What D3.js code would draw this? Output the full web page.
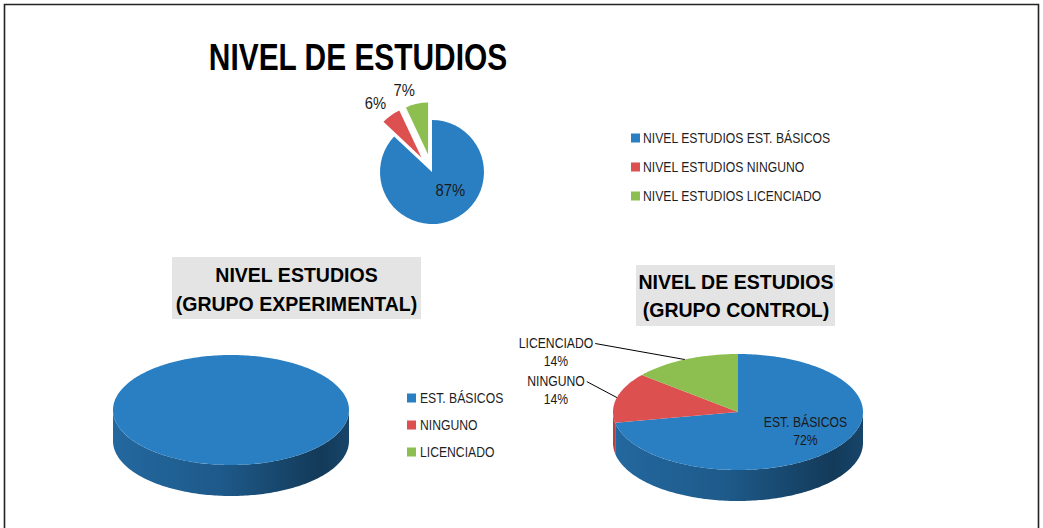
<!DOCTYPE html>
<html>
<head>
<meta charset="utf-8">
<script src="https://cdn.jsdelivr.net/npm/d3@7"></script>
<style>
  body { margin: 0; background: #fff; }
  svg { display: block; font-family: "Liberation Sans", Arial, sans-serif; }
</style>
</head>
<body>
<div id="chart"></div>
<script>
// data
const categories = ["EST. BÁSICOS", "NINGUNO", "LICENCIADO"];
const totalPct = [87, 6, 7];          // NIVEL DE ESTUDIOS (all)
const experimentalPct = [100, 0, 0];  // grupo experimental
const controlPct = [72, 14, 14];      // grupo control
const topLegendPrefix = "NIVEL ESTUDIOS ";

const colors = ["#2A7FC2", "#DC5050", "#8DBE50"];
const W = 1043, H = 528;
const K = 0.87; // narrow the sans font to look like Calibri

const svg = d3.select("#chart").append("svg")
  .attr("width", W).attr("height", H);
const defs = svg.append("defs");

// shrink text horizontally
function condense(sel, k) {
  sel.each(function () {
    const w = this.getComputedTextLength();
    d3.select(this).attr("textLength", w * k).attr("lengthAdjust", "spacingAndGlyphs");
  });
}

// frame (no bottom edge, it is cut off)
svg.append("path")
  .attr("d", `M4.5,${H} V4.5 H1038.5 V${H}`)
  .attr("fill", "none").attr("stroke", "#222").attr("stroke-width", 1.6);

const color = d3.scaleOrdinal().domain(categories).range(colors);
const pie = d3.pie().sort(null).value(d => d.v);
const toRows = vals => categories.map((c, i) => ({ c, v: vals[i] }));

// ---------- top: exploded 2D pie ----------
const mainPie = { cx: 432, cy: 172, r: 52, explode: [0, 18, 18] };
const arc = d3.arc().innerRadius(0).outerRadius(mainPie.r);
const gTop = svg.append("g").attr("transform", `translate(${mainPie.cx},${mainPie.cy})`);
const topArcs = pie(toRows(totalPct));

const mid = d => (d.startAngle + d.endAngle) / 2;
gTop.selectAll("path").data(topArcs).join("path")
  .attr("d", arc)
  .attr("fill", d => color(d.data.c))
  .attr("transform", (d, i) => {
    const e = mainPie.explode[i], a = mid(d);
    return `translate(${e * Math.sin(a)},${-e * Math.cos(a)})`;
  });

gTop.selectAll("text").data(topArcs).join("text")
  .attr("x", (d, i) => {
    const a = mid(d);
    return mainPie.explode[i] ? (mainPie.r + 26) * Math.sin(a) : mainPie.r * 0.55 * Math.sin(a) + 7;
  })
  .attr("y", (d, i) => {
    const a = mid(d);
    return mainPie.explode[i] ? -(mainPie.r + 26) * Math.cos(a) : -mainPie.r * 0.55 * Math.cos(a) - 2;
  })
  .attr("text-anchor", (d, i) => mainPie.explode[i] ? "end" : "middle")
  .attr("font-size", 17).attr("fill", "#1a1a1a")
  .text(d => d.data.v + "%")
  .call(condense, K);

svg.append("text")
  .attr("x", 358).attr("y", 70).attr("text-anchor", "middle")
  .attr("font-size", 36).attr("font-weight", "bold").attr("fill", "#000")
  .text("NIVEL DE ESTUDIOS")
  .call(condense, 0.83);

// top legend
const legTop = svg.append("g").attr("transform", "translate(631,138)");
const li = legTop.selectAll("g").data(categories).join("g")
  .attr("transform", (d, i) => `translate(0,${i * 29})`);
li.append("rect").attr("x", 0).attr("y", -4.5).attr("width", 9).attr("height", 9)
  .attr("fill", d => color(d));
li.append("text").attr("x", 12).attr("y", 5).attr("font-size", 14).attr("fill", "#1f1f1f")
  .text(d => topLegendPrefix + d)
  .call(condense, K);

// ---------- 3D pies ----------
function ellPt(p, a, dy) {
  return [p.cx + p.rx * Math.sin(a), p.cy - p.ry * Math.cos(a) + (dy || 0)];
}
function ellPts(p, a0, a1, dy) {
  const n = Math.max(2, Math.ceil(Math.abs(a1 - a0) / 0.02));
  return d3.range(n + 1).map(i => ellPt(p, a0 + (a1 - a0) * i / n, dy));
}
const line = d3.line();

function gradient(id, p, c) {
  const base = d3.color(c);
  const g = defs.append("linearGradient").attr("id", id)
    .attr("gradientUnits", "userSpaceOnUse")
    .attr("x1", p.cx - p.rx).attr("x2", p.cx + p.rx).attr("y1", 0).attr("y2", 0);
  [[0, 0.55], [0.45, 0.95], [0.88, 2.2], [1, 1.7]].forEach(([o, k]) =>
    g.append("stop").attr("offset", o).attr("stop-color", base.darker(k)));
  return `url(#${id})`;
}

function pie3d(name, vals, p) {
  const g = svg.append("g");
  const arcs = pie(toRows(vals)).filter(d => d.endAngle - d.startAngle > 1e-6);
  const fills = {};
  categories.forEach((c, i) => { fills[c] = gradient(`${name}-side-${i}`, p, color(c)); });

  // front side walls (visible between 90deg and 270deg)
  arcs.forEach(d => {
    const a = Math.max(d.startAngle, Math.PI / 2), b = Math.min(d.endAngle, 3 * Math.PI / 2);
    if (b <= a) return;
    const pts = ellPts(p, a, b).concat(ellPts(p, b, a, p.depth));
    g.append("path").attr("d", line(pts) + "Z").attr("fill", fills[d.data.c]);
  });

  // top faces
  arcs.forEach(d => {
    const full = d.endAngle - d.startAngle > 2 * Math.PI - 1e-6;
    const pts = ellPts(p, d.startAngle, d.endAngle);
    g.append("path")
      .attr("d", line(full ? pts : [[p.cx, p.cy]].concat(pts)) + "Z")
      .attr("fill", color(d.data.c));
  });
  return { g, arcs };
}

// left: grupo experimental
const pExp = { cx: 231, cy: 410, rx: 118, ry: 55, depth: 31 };
pie3d("exp", experimentalPct, pExp);

// right: grupo control
const pCtl = { cx: 738, cy: 412, rx: 125, ry: 58, depth: 31 };
const ctl = pie3d("ctl", controlPct, pCtl);

ctl.arcs.forEach(d => {
  const a = mid(d);
  if (d.index === 0) {
    const [x, y] = [pCtl.cx + pCtl.rx * 0.7 * Math.sin(a), pCtl.cy - pCtl.ry * 0.7 * Math.cos(a)];
    const t = svg.append("text").attr("text-anchor", "middle").attr("font-size", 14).attr("fill", "#1a1a1a");
    t.append("tspan").attr("x", x).attr("y", y - 11).text(d.data.c);
    t.append("tspan").attr("x", x).attr("y", y + 7).text(d.data.v + "%");
    t.selectAll("tspan").call(condense, K);
  } else {
    const [ex, ey] = ellPt(pCtl, a);
    const lx = pCtl.cx - pCtl.rx - 57, ly = ey - 12;
    const t = svg.append("text").attr("text-anchor", "middle").attr("font-size", 14).attr("fill", "#1a1a1a");
    t.append("tspan").attr("x", lx).attr("y", ly).text(d.data.c);
    t.append("tspan").attr("x", lx).attr("y", ly + 18).text(d.data.v + "%");
    t.selectAll("tspan").call(condense, K);
    const w = t.select("tspan").node().getComputedTextLength();
    svg.append("path")
      .attr("d", line([[lx + w / 2 + 2, ly - 4], [ex, ey]]))
      .attr("fill", "none").attr("stroke", "#000").attr("stroke-width", 1);
  }
});

// middle legend
const legMid = svg.append("g").attr("transform", "translate(407,398)");
const lm = legMid.selectAll("g").data(categories).join("g")
  .attr("transform", (d, i) => `translate(0,${i * 27})`);
lm.append("rect").attr("x", 0).attr("y", -4.5).attr("width", 9).attr("height", 9)
  .attr("fill", d => color(d));
lm.append("text").attr("x", 13).attr("y", 5).attr("font-size", 14).attr("fill", "#1f1f1f")
  .text(d => d)
  .call(condense, K);

// sub-titles on gray boxes
function boxTitle(x, y, w, h, lines, cx, y0, dy) {
  svg.append("rect").attr("x", x).attr("y", y).attr("width", w).attr("height", h)
    .attr("fill", "#e4e4e4");
  const t = svg.append("text").attr("text-anchor", "middle")
    .attr("font-size", 21).attr("font-weight", "bold").attr("fill", "#000");
  lines.forEach((s, i) => t.append("tspan").attr("x", cx).attr("y", y0 + i * dy).text(s));
  t.selectAll("tspan").call(condense, 0.93);
}
boxTitle(172, 257, 249, 62, ["NIVEL ESTUDIOS", "(GRUPO EXPERIMENTAL)"], 296.5, 282, 29);
boxTitle(636, 265, 199, 61, ["NIVEL DE ESTUDIOS", "(GRUPO CONTROL)"], 736, 289, 28);
</script>
</body>
</html>
